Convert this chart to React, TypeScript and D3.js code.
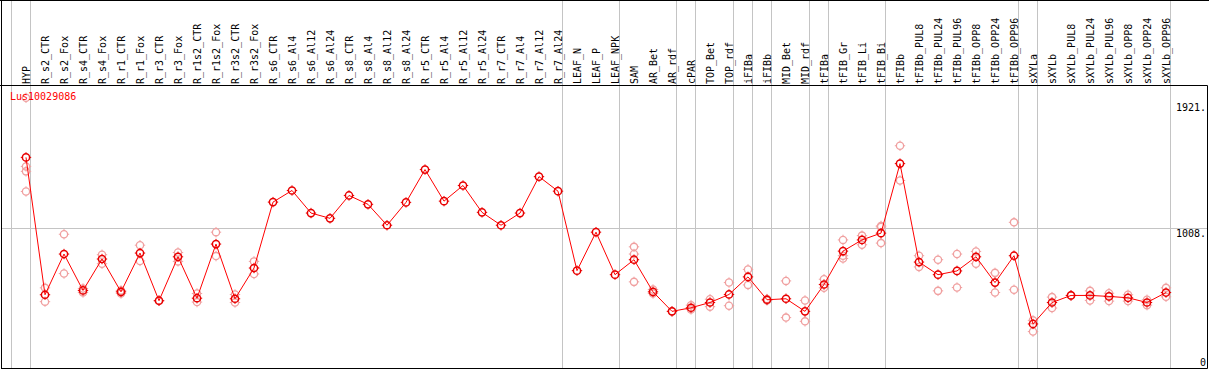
import React, { useEffect } from "react";
import * as d3 from "d3";

const W = 1209;
const H = 370;

const categories = [
  "HYP", "R_s2_CTR", "R_s2_Fox", "R_s4_CTR", "R_s4_Fox", "R_r1_CTR", "R_r1_Fox", "R_r3_CTR", "R_r3_Fox",
  "R_r1s2_CTR", "R_r1s2_Fox", "R_r3s2_CTR", "R_r3s2_Fox", "R_s6_CTR", "R_s6_Al4", "R_s6_Al12", "R_s6_Al24",
  "R_s8_CTR", "R_s8_Al4", "R_s8_Al12", "R_s8_Al24", "R_r5_CTR", "R_r5_Al4", "R_r5_Al12", "R_r5_Al24",
  "R_r7_CTR", "R_r7_Al4", "R_r7_Al12", "R_r7_Al24", "LEAF_N", "LEAF_P", "LEAF_NPK", "SAM", "AR_Bet", "AR_rdf",
  "cPAR", "TOP_Bet", "TOP_rdf", "iFIBa", "iFIBb", "MID_Bet", "MID_rdf", "tFIBa", "tFIB_Gr", "tFIB_Li", "tFIB_Bi",
  "tFIBb", "tFIBb_PUL8", "tFIBb_PUL24", "tFIBb_PUL96", "tFIBb_OPP8", "tFIBb_OPP24", "tFIBb_OPP96",
  "sXYLa", "sXYLb", "sXYLb_PUL8", "sXYLb_PUL24", "sXYLb_PUL96", "sXYLb_OPP8", "sXYLb_OPP24", "sXYLb_OPP96",
];

// mean expression per sample
const meanValues = [
  1521, 529, 823, 560, 787, 550, 830, 486, 803, 504, 895, 500, 722,
  1198, 1282, 1119, 1081, 1246, 1182, 1031, 1196, 1433, 1205, 1318, 1124, 1031, 1119, 1382, 1277,
  703, 981, 674, 782, 550, 409, 435, 473, 531, 658, 493, 500, 409, 603, 844, 925, 974,
  1476, 765, 674, 701, 803, 617, 811, 318, 473, 524, 524, 517, 507, 473, 545,
];

// individual replicates per sample
const replicateValues = [
  [1951, 1456, 1420, 1275], [579, 479], [966, 682], [574, 545], [818, 753], [560, 538], [887, 773], [486, 486],
  [834, 770], [538, 476], [981, 808], [531, 473], [770, 679],
  [], [], [], [], [], [], [], [], [], [], [], [], [], [], [], [],
  [], [], [], [875, 823, 622], [567, 538], [409], [454, 423], [497, 443], [617, 450], [712, 600], [488, 498],
  [629, 364], [488, 337], [641, 579], [925, 811, 791], [956, 890], [1019, 1026, 902],
  [1605, 1354], [811, 730], [782, 557], [823, 581], [842, 753], [687, 545], [1052, 565],
  [344, 263], [512, 433], [524, 524], [557, 488], [540, 483], [529, 483], [493, 454], [579, 514],
];

// group separators: drawn right after these sample indices
const groupBreaks = [-1, 0, 28, 31, 34, 35, 37, 38, 39, 41, 42, 45, 52, 53, 60];

const yTickValues = [1921, 1008, 0];
const yTickLabels = ["1921.", "1008.", "0"];

const geneId = "Lus10029086";

const FONT = "'DejaVu Sans Mono', monospace";

function Marker({ cx, cy, color, sw }: { cx: number; cy: number; color: string; sw: number }) {
  const r = 3.6;
  const t = 5.2;
  return (
    <g stroke={color} strokeWidth={sw} fill="none">
      <circle cx={cx} cy={cy} r={r} />
      <line x1={cx} y1={cy - r} x2={cx} y2={cy - t} strokeWidth={1} />
      <line x1={cx} y1={cy + r} x2={cx} y2={cy + t} strokeWidth={1} />
      <line x1={cx - r} y1={cy} x2={cx - t} y2={cy} strokeWidth={1} />
      <line x1={cx + r} y1={cy} x2={cx + t} y2={cy} strokeWidth={1} />
    </g>
  );
}

export default function App() {
  useEffect(() => {
    document.body.style.margin = "0";
  }, []);

  const x = d3.scaleLinear().domain([0, categories.length - 1]).range([26, 1166]);
  const y = d3.scaleLinear().domain([0, 1921]).range([368, 102]);

  const headerBottom = 85.5;
  const plotBottom = 368.5;
  const rightEdge = 1207.5;

  const line = d3
    .line<number>()
    .x((_, i) => x(i))
    .y((d) => y(d));

  return (
    <svg width={W} height={H} style={{ position: "absolute", left: 0, top: 0, background: "#fff" }}>
      {/* vertical group separators */}
      {groupBreaks.map((b) => {
        const gx = Math.round(x(b) + 4) + 0.5;
        return <line key={b} x1={gx} x2={gx} y1={0} y2={plotBottom} stroke="#c4c4c4" strokeWidth={1} />;
      })}

      {/* reference line at 1008 */}
      <line x1={2} x2={rightEdge} y1={Math.round(y(1008)) + 0.5} y2={Math.round(y(1008)) + 0.5} stroke="#c4c4c4" />

      {/* frame */}
      <line x1={0} x2={W} y1={0.5} y2={0.5} stroke="#000" />
      <line x1={1.5} x2={1.5} y1={0} y2={plotBottom} stroke="#000" />
      <line x1={0} x2={rightEdge} y1={headerBottom} y2={headerBottom} stroke="#000" />
      <line x1={1} x2={rightEdge} y1={plotBottom} y2={plotBottom} stroke="#000" />
      <line x1={rightEdge} x2={rightEdge} y1={headerBottom} y2={plotBottom} stroke="#000" />

      {/* sample labels */}
      {categories.map((c, i) => (
        <text
          key={c}
          transform={`translate(${x(i) + 4},84) rotate(-90)`}
          fontFamily={FONT}
          fontSize={10}
          fill="#000"
        >
          {c}
        </text>
      ))}

      {/* y tick labels */}
      {yTickValues.map((v, i) => (
        <text
          key={v}
          x={1206}
          y={Math.min(y(v) + 9, 366)}
          textAnchor="end"
          fontFamily={FONT}
          fontSize={10}
          fill="#000"
        >
          {yTickLabels[i]}
        </text>
      ))}

      {/* replicates */}
      {replicateValues.map((reps, i) =>
        reps.map((v, j) => <Marker key={`${i}-${j}`} cx={x(i)} cy={y(v)} color="#f0a0a0" sw={1.3} />)
      )}

      <text x={10} y={100} fontFamily={FONT} fontSize={10} fill="#ff0000">
        {geneId}
      </text>

      {/* mean line */}
      <path d={line(meanValues) ?? ""} fill="none" stroke="#ff0000" strokeWidth={1} />
      {meanValues.map((v, i) => (
        <Marker key={i} cx={x(i)} cy={y(v)} color="#e80000" sw={1.5} />
      ))}
    </svg>
  );
}
